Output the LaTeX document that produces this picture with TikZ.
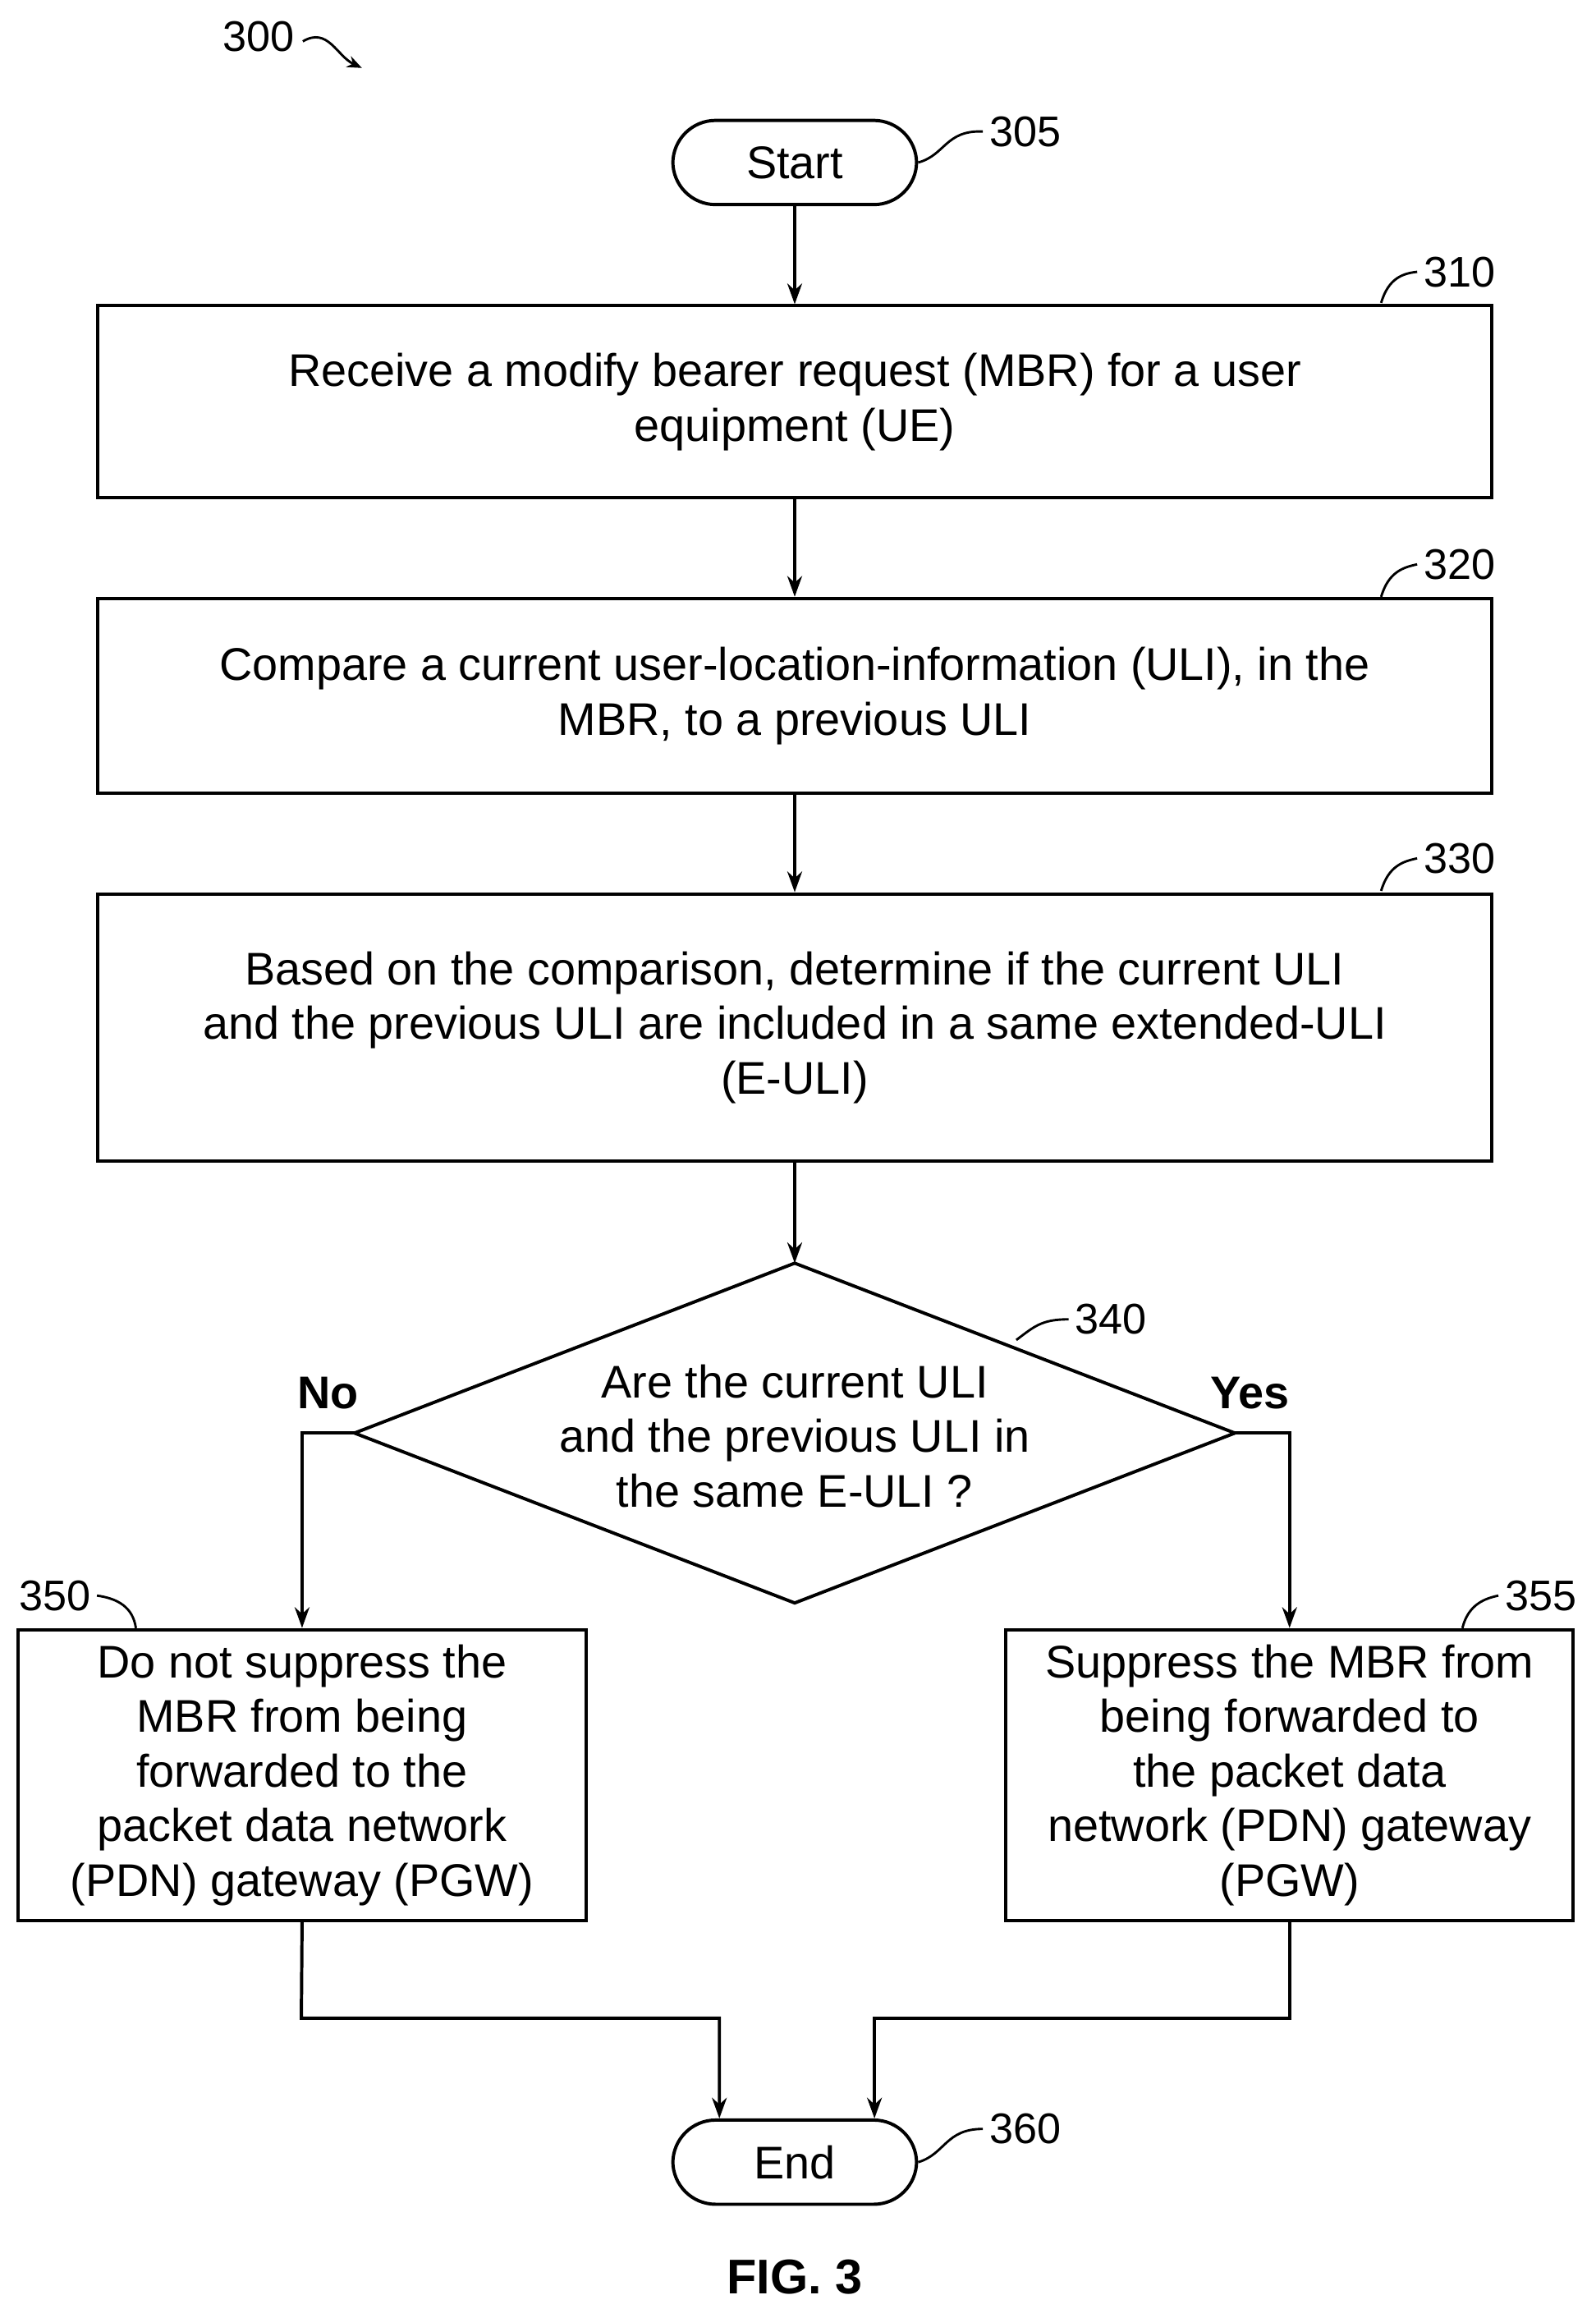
\documentclass[tikz,border=0pt]{standalone}
\usepackage{fontspec}
\setmainfont{Liberation Sans}
\usetikzlibrary{arrows.meta,shapes.geometric}
\begin{document}
\begin{tikzpicture}[x=1pt,y=-1pt,line width=2.2pt,
  txt/.style={font=\fontsize{31}{37}\selectfont,align=center},
  box/.style={draw,txt,inner sep=0pt},
  term/.style={draw,txt,rounded corners=29pt,minimum width=165pt,minimum height=57pt,inner sep=0pt},
  ref/.style={font=\fontsize{29}{33}\selectfont},
  lead/.style={line width=1.6pt},
  arr/.style={-{Stealth[length=14pt,width=10pt]}}]
\useasboundingbox (0,0) rectangle (1080,1569);
\node[term] (start) at (538,110) {Start};
\node[box,minimum width=944pt,minimum height=130pt] (b310) at (538,272) {Receive a modify bearer request (MBR) for a user\\equipment (UE)};
\node[box,minimum width=944pt,minimum height=132pt] (b320) at (538,471) {Compare a current user-location-information (ULI), in the\\MBR, to a previous ULI};
\node[box,minimum width=944pt,minimum height=181pt] (b330) at (538,695.5) {Based on the comparison, determine if the current ULI\\and the previous ULI are included in a same extended-ULI\\(E-ULI)};
\coordinate (dt) at (538,855); \coordinate (db) at (538,1085);
\coordinate (dl) at (240,970); \coordinate (dr) at (836,970);
\draw (dt) -- (dr) -- (db) -- (dl) -- cycle;
\node[txt] (dtext) at (538,972) {Are the current ULI\\and the previous ULI in\\the same E-ULI ?};
\node[box,minimum width=385pt,minimum height=197pt] (b350) at (204.5,1201.5) {Do not suppress the\\MBR from being\\forwarded to the\\packet data network\\(PDN) gateway (PGW)};
\node[box,minimum width=384pt,minimum height=197pt] (b355) at (873,1201.5) {Suppress the MBR from\\being forwarded to\\the packet data\\network (PDN) gateway\\(PGW)};
\node[term] (end) at (538,1463.5) {End};
\node[txt,font=\bfseries\fontsize{31}{37}\selectfont] (no) at (222,943) {No};
\node[txt,font=\bfseries\fontsize{31}{37}\selectfont] (yes) at (846,943) {Yes};
\node[txt,font=\bfseries\fontsize{33}{37}\selectfont] (fig) at (538,1541) {FIG. 3};
% arrows
\draw[arr] (start) -- (b310);
\draw[arr] (b310) -- (b320);
\draw[arr] (b320) -- (b330);
\draw[arr] (b330) -- (dt);
\draw[arr] (dl) -| (b350.north);
\draw[arr] (dr) -| (b355.north);
\coordinate (jl) at (204,1366); \coordinate (jr) at (873,1366);
\coordinate (el) at (487,1366); \coordinate (er) at (592,1366);
\draw[arr] (b350.south) -- (jl) -- (el) -- (el |- end.north);
\draw[arr] (b355.south) -- (jr) -- (er) -- (er |- end.north);
% reference labels
\node[ref] (r300) at (175,25) {300};
\coordinate (a300s) at (205,28); \coordinate (a300e) at (245,46);
\draw[lead,-{Stealth[length=10pt,width=8pt]}] (a300s) .. controls (222,18) and (228,38) .. (a300e);
\node[ref] (r305) at (694,89) {305};
\draw[lead] (start.east) .. controls (640,105) and (640,88) .. (r305.west);
\node[ref] (r310) at (988,184) {310};
\coordinate (c310) at (935,205);
\draw[lead] (c310) .. controls (940,188) and (950,185) .. (r310.west);
\node[ref] (r320) at (988,382) {320};
\coordinate (c320) at (935,404);
\draw[lead] (c320) .. controls (940,387) and (950,384) .. (r320.west);
\node[ref] (r330) at (988,581) {330};
\coordinate (c330) at (935,603);
\draw[lead] (c330) .. controls (940,586) and (950,583) .. (r330.west);
\node[ref] (r340) at (752,893) {340};
\coordinate (c340) at (688,907);
\draw[lead] (c340) .. controls (700,898) and (705,893) .. (r340.west);
\node[ref] (r350) at (37,1080) {350};
\coordinate (c350) at (92,1102);
\draw[lead] (r350.east) .. controls (80,1082) and (90,1088) .. (c350);
\node[ref] (r355) at (1043,1080) {355};
\coordinate (c355) at (990,1102);
\draw[lead] (c355) .. controls (994,1086) and (1005,1082) .. (r355.west);
\node[ref] (r360) at (694,1441) {360};
\draw[lead] (end.east) .. controls (640,1458) and (640,1441) .. (r360.west);
\end{tikzpicture}
\end{document}
